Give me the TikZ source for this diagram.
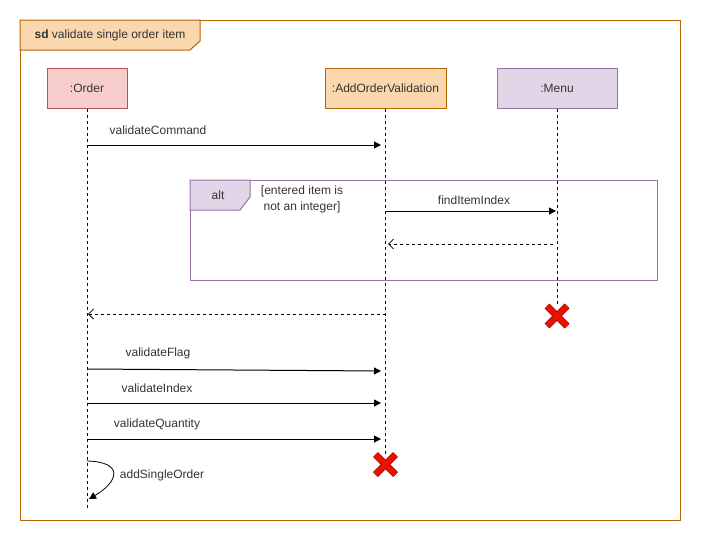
\documentclass[tikz,border=0pt]{standalone}
\usepackage{fontspec}
\setmainfont{Liberation Sans}
\usetikzlibrary{arrows.meta}
\definecolor{ordfill}{HTML}{F8CECC}
\definecolor{ordline}{HTML}{B85450}
\definecolor{aovfill}{HTML}{FAD7AC}
\definecolor{aovline}{HTML}{B46504}
\definecolor{menfill}{HTML}{E1D5E7}
\definecolor{menline}{HTML}{9673A6}
\definecolor{xred}{HTML}{E51400}
\definecolor{xdark}{HTML}{B20000}
\begin{document}
\begin{tikzpicture}[x=1pt,y=-1pt,font=\fontsize{12}{14}\selectfont,
  head/.style={draw,line width=1pt,minimum height=40pt,inner sep=0pt,text=black!80},
  lifeline/.style={line width=0.8pt,dash pattern=on 3pt off 3pt},
  msg/.style={line width=1pt,-{Triangle[length=7pt,width=7pt]}},
  ret/.style={line width=0.8pt,dash pattern=on 3pt off 3pt,-{Straight Barb[length=5pt,width=10pt]}},
  lbl/.style={text=black!80,inner sep=0pt},
  xline/.style={line width=7pt,draw=xdark},
  xfill/.style={line width=5pt,draw=xred}]
\useasboundingbox (0,0) rectangle (701,541);
% outer frame
\draw[aovline,line width=1pt] (20,20) rectangle (680,520);
\draw[aovline,fill=aovfill,line width=1pt] (20,20) -- (200,20) -- (200,41) -- (190,50) -- (20,50) -- cycle;
\node[lbl] (title) at (110,35) {\textbf{sd} validate single order item};
% heads
\node[head,fill=ordfill,draw=ordline,minimum width=80pt] (order) at (87,88) {:Order};
\node[head,fill=aovfill,draw=aovline,minimum width=121pt] (aov) at (385.5,88) {:AddOrderValidation};
\node[head,fill=menfill,draw=menline,minimum width=120pt] (menu) at (557,88) {:Menu};
% lifeline ends
\coordinate (orderEnd) at (87,510);
\coordinate (aovEnd) at (385.5,455);
\coordinate (menuEnd) at (557,305);
\draw[lifeline] (order.south) -- (orderEnd);
\draw[lifeline] (aov.south) -- (aovEnd);
\draw[lifeline] (menu.south) -- (menuEnd);
% alt frame
\draw[menline,line width=1pt] (190,180) rectangle (657,280);
\draw[menline,fill=menfill,line width=1pt] (190,180) -- (250,180) -- (250,197) -- (240,210) -- (190,210) -- cycle;
\node[lbl] (alt) at (218,195) {alt};
\node[lbl,align=center,font=\fontsize{12}{16}\selectfont] (guard) at (302,199) {[entered item is\\ not an integer]};
% messages
\coordinate (m1a) at (87,145); \coordinate (m1b) at (381,145);
\draw[msg] (m1a) -- (m1b);
\node[lbl] (m1l) at (158,130) {validateCommand};
\coordinate (m2a) at (385.5,211); \coordinate (m2b) at (556,211);
\draw[msg] (m2a) -- (m2b);
\node[lbl] (m2l) at (474,200) {findItemIndex};
\coordinate (r2a) at (553,244); \coordinate (r2b) at (388,244);
\draw[ret] (r2a) -- (r2b);
\coordinate (r1a) at (385.5,314); \coordinate (r1b) at (88,314);
\draw[ret] (r1a) -- (r1b);
\coordinate (m3a) at (87,369); \coordinate (m3b) at (381,371);
\draw[msg] (m3a) -- (m3b);
\node[lbl] (m3l) at (158,353) {validateFlag};
\coordinate (m4a) at (87,403); \coordinate (m4b) at (381,403);
\draw[msg] (m4a) -- (m4b);
\node[lbl] (m4l) at (157,388) {validateIndex};
\coordinate (m5a) at (87,439); \coordinate (m5b) at (381,439);
\draw[msg] (m5a) -- (m5b);
\node[lbl] (m5l) at (157,424) {validateQuantity};
\coordinate (s1a) at (87,461); \coordinate (s1b) at (89,499);
\draw[line width=0.8pt,-{Triangle[length=7pt,width=7pt]}] (s1a) .. controls (125,462) and (118,482) .. (s1b);
\node[lbl] (s1l) at (162,475) {addSingleOrder};
% destroy marks
\coordinate (x1) at (557,316);
\coordinate (x2) at (385.5,464.5);
\foreach \c in {x1,x2}{
  \draw[xline] ([shift={(-10,-10)}]\c) -- ([shift={(10,10)}]\c);
  \draw[xline] ([shift={(-10,10)}]\c) -- ([shift={(10,-10)}]\c);
  \draw[xfill] ([shift={(-10,-10)}]\c) -- ([shift={(10,10)}]\c);
  \draw[xfill] ([shift={(-10,10)}]\c) -- ([shift={(10,-10)}]\c);
}
\end{tikzpicture}
\end{document}
